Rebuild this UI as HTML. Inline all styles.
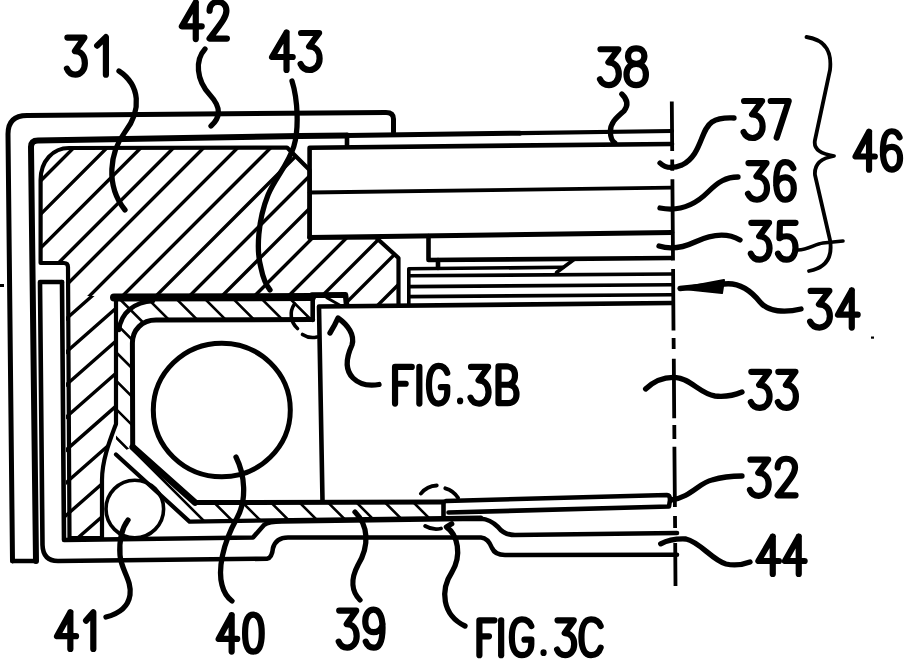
<!DOCTYPE html><html><head><meta charset="utf-8"><style>html,body{margin:0;padding:0;background:#fff;width:904px;height:660px;overflow:hidden;font-family:"Liberation Sans",sans-serif}svg{display:block}</style></head><body><svg width="904" height="660" viewBox="0 0 904 660" fill="none" stroke="#000" stroke-linecap="round" stroke-linejoin="round"><clipPath id="r31"><path d="M40.6,180 C40.6,161 53,148 69,148 L287,147.5 L309.6,170 L309.6,237.5 L376,237.5 L398.5,258 L398.5,306 L346,306 L346,296 L68.5,296 L68,267 Q68,263 64,263 L40.6,263 Z"/></clipPath>
<clipPath id="r31l"><path d="M66,296 L116,296 L116,424 C110,440 102,460 102,480 L102,538 L66,538 Z"/></clipPath>
<path clip-path="url(#r31)" stroke-width="3.4" d="M-378.5,600 L121.5,100 M-345.2,600 L154.8,100 M-311.3,600 L188.7,100 M-278.6,600 L221.4,100 M-248.5,600 L251.5,100 M-214.5,600 L285.5,100 M-181.5,600 L318.5,100 M-148.0,600 L352.0,100 M-114.5,600 L385.5,100 M-82.0,600 L418.0,100 M-49.5,600 L450.5,100 M-15.5,600 L484.5,100 M18.0,600 L518.0,100 M49.0,600 L549.0,100 M83.0,600 L583.0,100 M116.0,600 L616.0,100"/>
<path clip-path="url(#r31l)" stroke-width="3.4" d="M40,309.2 L140,221.2 M40,341.8 L140,253.8 M40,375.2 L140,287.2 M40,407.8 L140,319.8 M40,440.2 L140,352.2 M40,473.0 L140,385.0 M40,505.7 L140,417.7 M40,538.4 L140,450.4 M40,571.2 L140,483.2"/>
<path d="M40.6,180 C40.6,161 53,148 69,148 L287,147.5 L309.6,170 L309.6,237.5 L376,237.5 L398.5,258 L398.5,306 L346,306 L346,296 L116,296 L116,424 C110,440 102,460 102,480 L102,538 L69.5,538 L68,267 Q68,263 64,263 L40.6,263 Z" stroke-width="4.2" />
<path d="M12.5,561 L8,134 Q8,115.5 27,115.5 L386,112.4 Q393.5,112.4 393.5,119 L393.5,132" stroke-width="5" />
<path d="M36,561 L31,147 Q31,140.5 38,140.5 L300,136 L347,135.5" stroke-width="6" />
<path d="M347,135.5 L520,133.2" stroke-width="5" />
<path d="M520,133.2 L672,131" stroke-width="4.2" />
<path d="M12.5,561 L36,561" stroke-width="4.6" />
<path d="M40,282 L62,282 M40,282 L42.5,545 Q43,561 58,561 L267,558.7 Q272,558 273,548 Q276,537.5 288,537.5 L481,537.5 Q488,538 492,548 Q495,555 505,555 L677,554.7" stroke-width="4.6" />
<path d="M62,282 L64,540 L253,537.5 L264,525 Q268,521.5 282,521.5 L481,518.7 Q490,519 498,527 Q504,535 515,535 L677,533" stroke-width="4.6" />
<path d="M114,297.5 L312,297" stroke-width="8" />
<path d="M312,295 L345.5,294.7 L346.5,304" stroke-width="5.5" />
<path d="M312.7,297 L312.7,320" stroke-width="4.6" />
<path d="M119,330 C121,312 135,302 153,301" stroke-width="4.6" />
<path d="M312.7,319.5 L156,320 C142,320 132.4,330 132.4,343 L132.7,447 L195,502.5 L443.5,502" stroke-width="5" />
<path d="M132.7,447 L195,502.5" stroke-width="6.5" />
<path d="M116,454.5 L189.5,521.6 L481,517.5" stroke-width="4.2" />
<path d="M443.5,502 L443.5,516" stroke-width="4.6" />
<clipPath id="c1"><path d="M116,296 L312.7,297 L312.7,319 L156,320 C142,320 132.4,330 132.4,343 L132.7,447 L116,454.5 Z"/></clipPath>
<path clip-path="url(#c1)" stroke-width="2.6" d="M0,-2009.5 L904,-1105.5 M0,-1981.0 L904,-1077.0 M0,-1952.6 L904,-1048.6 M0,-1924.2 L904,-1020.2 M0,-1895.8 L904,-991.8 M0,-1867.3 L904,-963.3 M0,-1838.9 L904,-934.9 M0,-1810.5 L904,-906.5 M0,-1782.1 L904,-878.1 M0,-1753.6 L904,-849.6 M0,-1725.2 L904,-821.2 M0,-1696.8 L904,-792.8 M0,-1668.4 L904,-764.4 M0,-1639.9 L904,-735.9 M0,-1611.5 L904,-707.5 M0,-1583.1 L904,-679.1 M0,-1554.7 L904,-650.7 M0,-1526.2 L904,-622.2 M0,-1497.8 L904,-593.8 M0,-1469.4 L904,-565.4 M0,-1441.0 L904,-537.0 M0,-1412.5 L904,-508.5 M0,-1384.1 L904,-480.1 M0,-1355.7 L904,-451.7 M0,-1327.3 L904,-423.3 M0,-1298.8 L904,-394.8 M0,-1270.4 L904,-366.4 M0,-1242.0 L904,-338.0 M0,-1213.6 L904,-309.6 M0,-1185.1 L904,-281.1 M0,-1156.7 L904,-252.7 M0,-1128.3 L904,-224.3 M0,-1099.9 L904,-195.9 M0,-1071.4 L904,-167.4 M0,-1043.0 L904,-139.0 M0,-1014.6 L904,-110.6 M0,-986.2 L904,-82.2 M0,-957.7 L904,-53.7 M0,-929.3 L904,-25.3 M0,-900.9 L904,3.1 M0,-872.4 L904,31.6 M0,-844.0 L904,60.0 M0,-815.6 L904,88.4 M0,-787.2 L904,116.8 M0,-758.7 L904,145.3 M0,-730.3 L904,173.7 M0,-701.9 L904,202.1 M0,-673.5 L904,230.5 M0,-645.0 L904,259.0 M0,-616.6 L904,287.4 M0,-588.2 L904,315.8 M0,-559.8 L904,344.2 M0,-531.3 L904,372.7 M0,-502.9 L904,401.1 M0,-474.5 L904,429.5 M0,-446.1 L904,457.9 M0,-417.6 L904,486.4 M0,-389.2 L904,514.8 M0,-360.8 L904,543.2 M0,-332.4 L904,571.6 M0,-303.9 L904,600.1 M0,-275.5 L904,628.5 M0,-247.1 L904,656.9 M0,-218.7 L904,685.3 M0,-190.2 L904,713.8 M0,-161.8 L904,742.2 M0,-133.4 L904,770.6 M0,-105.0 L904,799.0 M0,-76.5 L904,827.5 M0,-48.1 L904,855.9 M0,-19.7 L904,884.3 M0,8.7 L904,912.7 M0,37.2 L904,941.2 M0,65.6 L904,969.6 M0,94.0 L904,998.0 M0,122.5 L904,1026.5 M0,150.9 L904,1054.9 M0,179.3 L904,1083.3 M0,207.7 L904,1111.7 M0,236.2 L904,1140.2 M0,264.6 L904,1168.6 M0,293.0 L904,1197.0 M0,321.4 L904,1225.4 M0,349.9 L904,1253.9 M0,378.3 L904,1282.3 M0,406.7 L904,1310.7 M0,435.1 L904,1339.1 M0,463.6 L904,1367.6 M0,492.0 L904,1396.0 M0,520.4 L904,1424.4 M0,548.8 L904,1452.8 M0,577.3 L904,1481.3 M0,605.7 L904,1509.7 M0,634.1 L904,1538.1 M0,662.5 L904,1566.5 M0,691.0 L904,1595.0 M0,719.4 L904,1623.4 M0,747.8 L904,1651.8 M0,776.2 L904,1680.2 M0,804.7 L904,1708.7 M0,833.1 L904,1737.1 M0,861.5 L904,1765.5 M0,889.9 L904,1793.9 M0,918.4 L904,1822.4 M0,946.8 L904,1850.8 M0,975.2 L904,1879.2 M0,1003.6 L904,1907.6 M0,1032.1 L904,1936.1 M0,1060.5 L904,1964.5 M0,1088.9 L904,1992.9 M0,1117.4 L904,2021.4 M0,1145.8 L904,2049.8 M0,1174.2 L904,2078.2 M0,1202.6 L904,2106.6 M0,1231.1 L904,2135.1 M0,1259.5 L904,2163.5 M0,1287.9 L904,2191.9 M0,1316.3 L904,2220.3 M0,1344.8 L904,2248.8 M0,1373.2 L904,2277.2 M0,1401.6 L904,2305.6 M0,1430.0 L904,2334.0 M0,1458.5 L904,2362.5 M0,1486.9 L904,2390.9 M0,1515.3 L904,2419.3 M0,1543.7 L904,2447.7 M0,1572.2 L904,2476.2 M0,1600.6 L904,2504.6 M0,1629.0 L904,2533.0 M0,1657.4 L904,2561.4 M0,1685.9 L904,2589.9 M0,1714.3 L904,2618.3 M0,1742.7 L904,2646.7 M0,1771.1 L904,2675.1 M0,1799.6 L904,2703.6 M0,1828.0 L904,2732.0 M0,1856.4 L904,2760.4 M0,1884.8 L904,2788.8 M0,1913.3 L904,2817.3 M0,1941.7 L904,2845.7 M0,1970.1 L904,2874.1 M0,1998.5 L904,2902.5 M0,2027.0 L904,2931.0 M0,2055.4 L904,2959.4 M0,2083.8 L904,2987.8 M0,2112.2 L904,3016.2 M0,2140.7 L904,3044.7 M0,2169.1 L904,3073.1 M0,2197.5 L904,3101.5 M0,2226.0 L904,3130.0 M0,2254.4 L904,3158.4 M0,2282.8 L904,3186.8 M0,2311.2 L904,3215.2 M0,2339.7 L904,3243.7 M0,2368.1 L904,3272.1 M0,2396.5 L904,3300.5 M0,2424.9 L904,3328.9 M0,2453.4 L904,3357.4 M0,2481.8 L904,3385.8"/>
<clipPath id="c2"><path d="M116,454.5 L132.7,447 L195,502.5 L443.5,502 L443.5,517 L189,521 Z"/></clipPath>
<path clip-path="url(#c2)" stroke-width="2.6" d="M0,-2019.7 L904,-1115.7 M0,-1991.2 L904,-1087.2 M0,-1962.7 L904,-1058.7 M0,-1934.2 L904,-1030.2 M0,-1905.7 L904,-1001.7 M0,-1877.3 L904,-973.3 M0,-1848.8 L904,-944.8 M0,-1820.3 L904,-916.3 M0,-1791.8 L904,-887.8 M0,-1763.3 L904,-859.3 M0,-1734.8 L904,-830.8 M0,-1706.3 L904,-802.3 M0,-1677.8 L904,-773.8 M0,-1649.3 L904,-745.3 M0,-1620.8 L904,-716.8 M0,-1592.3 L904,-688.3 M0,-1563.8 L904,-659.8 M0,-1535.3 L904,-631.3 M0,-1506.8 L904,-602.8 M0,-1478.3 L904,-574.3 M0,-1449.8 L904,-545.8 M0,-1421.3 L904,-517.3 M0,-1392.8 L904,-488.8 M0,-1364.3 L904,-460.3 M0,-1335.8 L904,-431.8 M0,-1307.3 L904,-403.3 M0,-1278.8 L904,-374.8 M0,-1250.3 L904,-346.3 M0,-1221.8 L904,-317.8 M0,-1193.3 L904,-289.3 M0,-1164.8 L904,-260.8 M0,-1136.3 L904,-232.3 M0,-1107.8 L904,-203.8 M0,-1079.4 L904,-175.4 M0,-1050.9 L904,-146.9 M0,-1022.4 L904,-118.4 M0,-993.9 L904,-89.9 M0,-965.4 L904,-61.4 M0,-936.9 L904,-32.9 M0,-908.4 L904,-4.4 M0,-879.9 L904,24.1 M0,-851.4 L904,52.6 M0,-822.9 L904,81.1 M0,-794.4 L904,109.6 M0,-765.9 L904,138.1 M0,-737.4 L904,166.6 M0,-708.9 L904,195.1 M0,-680.4 L904,223.6 M0,-651.9 L904,252.1 M0,-623.4 L904,280.6 M0,-594.9 L904,309.1 M0,-566.4 L904,337.6 M0,-537.9 L904,366.1 M0,-509.4 L904,394.6 M0,-480.9 L904,423.1 M0,-452.4 L904,451.6 M0,-423.9 L904,480.1 M0,-395.4 L904,508.6 M0,-366.9 L904,537.1 M0,-338.4 L904,565.6 M0,-309.9 L904,594.1 M0,-281.5 L904,622.5 M0,-253.0 L904,651.0 M0,-224.5 L904,679.5 M0,-196.0 L904,708.0 M0,-167.5 L904,736.5 M0,-139.0 L904,765.0 M0,-110.5 L904,793.5 M0,-82.0 L904,822.0 M0,-53.5 L904,850.5 M0,-25.0 L904,879.0 M0,3.5 L904,907.5 M0,32.0 L904,936.0 M0,60.5 L904,964.5 M0,89.0 L904,993.0 M0,117.5 L904,1021.5 M0,146.0 L904,1050.0 M0,174.5 L904,1078.5 M0,203.0 L904,1107.0 M0,231.5 L904,1135.5 M0,260.0 L904,1164.0 M0,288.5 L904,1192.5 M0,317.0 L904,1221.0 M0,345.5 L904,1249.5 M0,374.0 L904,1278.0 M0,402.5 L904,1306.5 M0,431.0 L904,1335.0 M0,459.5 L904,1363.5 M0,487.9 L904,1391.9 M0,516.4 L904,1420.4 M0,544.9 L904,1448.9 M0,573.4 L904,1477.4 M0,601.9 L904,1505.9 M0,630.4 L904,1534.4 M0,658.9 L904,1562.9 M0,687.4 L904,1591.4 M0,715.9 L904,1619.9 M0,744.4 L904,1648.4 M0,772.9 L904,1676.9 M0,801.4 L904,1705.4 M0,829.9 L904,1733.9 M0,858.4 L904,1762.4 M0,886.9 L904,1790.9 M0,915.4 L904,1819.4 M0,943.9 L904,1847.9 M0,972.4 L904,1876.4 M0,1000.9 L904,1904.9 M0,1029.4 L904,1933.4 M0,1057.9 L904,1961.9 M0,1086.4 L904,1990.4 M0,1114.9 L904,2018.9 M0,1143.4 L904,2047.4 M0,1171.9 L904,2075.9 M0,1200.4 L904,2104.4 M0,1228.9 L904,2132.9 M0,1257.4 L904,2161.4 M0,1285.8 L904,2189.8 M0,1314.3 L904,2218.3 M0,1342.8 L904,2246.8 M0,1371.3 L904,2275.3 M0,1399.8 L904,2303.8 M0,1428.3 L904,2332.3 M0,1456.8 L904,2360.8 M0,1485.3 L904,2389.3 M0,1513.8 L904,2417.8 M0,1542.3 L904,2446.3 M0,1570.8 L904,2474.8 M0,1599.3 L904,2503.3 M0,1627.8 L904,2531.8 M0,1656.3 L904,2560.3 M0,1684.8 L904,2588.8 M0,1713.3 L904,2617.3 M0,1741.8 L904,2645.8 M0,1770.3 L904,2674.3 M0,1798.8 L904,2702.8 M0,1827.3 L904,2731.3 M0,1855.8 L904,2759.8 M0,1884.3 L904,2788.3 M0,1912.8 L904,2816.8 M0,1941.3 L904,2845.3 M0,1969.8 L904,2873.8 M0,1998.3 L904,2902.3 M0,2026.8 L904,2930.8 M0,2055.3 L904,2959.3 M0,2083.7 L904,2987.7 M0,2112.2 L904,3016.2 M0,2140.7 L904,3044.7 M0,2169.2 L904,3073.2 M0,2197.7 L904,3101.7 M0,2226.2 L904,3130.2 M0,2254.7 L904,3158.7 M0,2283.2 L904,3187.2 M0,2311.7 L904,3215.7 M0,2340.2 L904,3244.2 M0,2368.7 L904,3272.7 M0,2397.2 L904,3301.2 M0,2425.7 L904,3329.7 M0,2454.2 L904,3358.2 M0,2482.7 L904,3386.7"/>
<path d="M322.5,501 L319,306.5 L672,303" stroke-width="4.6" />
<path d="M309.6,237.5 L309.6,147.7 L672,144" stroke-width="4.6" />
<path d="M309.6,192.5 L672,187.7" stroke-width="3.8" />
<path d="M309.6,237.5 L672,232.5" stroke-width="4.8" />
<path d="M347,135 L347,146" stroke-width="4.6" />
<path d="M428.5,236 L428.5,260 L672,258" stroke-width="4.6" />
<path d="M438,260 L438,268" stroke-width="4.6" />
<path d="M408.8,305 L408.8,268.8 L563,267.3" stroke-width="3.6" />
<path d="M556.5,272.5 L574,259.5" stroke-width="3.6" />
<path d="M408.8,275.8 L672,274" stroke-width="3.6" />
<path d="M408.8,286.6 L672,284.7" stroke-width="3.6" />
<path d="M408.8,296.6 L672,294.7" stroke-width="3.6" />
<path d="M446,501 L667,495 Q670,495 670,500 L669,506.5 L448.5,512.5" stroke-width="4.6" />
<ellipse cx="221.8" cy="410" rx="68.5" ry="66.8" stroke-width="5"/>
<circle cx="134.8" cy="509" r="28.8" stroke-width="3.6"/>
<path d="M671.8,101.6 L672.2,150.9 M672.2,159.4 L672.3,170.8 M672.4,179.3 L673.0,260.5 M673.1,269 L673.5,330.5 M673.6,338 L673.7,349 M673.8,358.7 L674.2,418.3 M674.3,425 L674.4,439 M674.4,446.7 L674.9,507 M675.0,516 L675.1,528 M675.2,543 L675.5,586" stroke-width="3.8" stroke-linecap="butt"/>
<path d="M420.9,493.6 A21.5,21.5 0 0 1 436.8,485.5 M445.3,488.3 A21.5,21.5 0 0 1 458,497.8 M441,528.5 A21.5,21.5 0 0 1 425.2,526" stroke-width="3.8" />
<path d="M294.5,304 A18.5,18.5 0 0 0 297.5,328.5 M302.5,334.5 A18.5,18.5 0 0 0 317,337" stroke-width="3.6" />
<path d="M326.8,297.7 L339.5,305" stroke-width="3" />
<path d="M119,71 C140,85 142,110 125,132 C110,152 105,185 125,210" stroke-width="5.3" />
<path d="M205,49 C195,60 196,80 210,95 C222,108 220,118 211,126" stroke-width="5.3" />
<path d="M292,81 C298,100 299,130 293.8,146.5 C288,165 275,178 268,195 C258,220 256,250 261,268 C263,278 266,285 270,290" stroke-width="5.3" />
<path d="M621.8,94 C628,100 628,106 624,111 C616,118 610,123 610.4,132 C610.5,138 612,141 614.8,143" stroke-width="5.3" />
<path d="M660,163 C665,168 672,169 682,165 C702,155 700,130 712,122 C720,117 728,118 734,118" stroke-width="5.3" />
<path d="M660,208 C680,212 695,205 708,192 C718,182 726,177 738,177" stroke-width="5.3" />
<path d="M659,246 C668,249 680,249 695,242 C712,234 728,233 740,240" stroke-width="5.3" />
<path d="M798,250 C808,250 815,244 823,243 L843,241" stroke-width="3.6" />
<path d="M806.5,37 C826,40 832,52 830,70 L815,140 C813,150 822,154 834,156 C822,158 814,163 815,175 L830,240 C833,258 825,268 809,271" stroke-width="3.8" />
<path d="M679,288.5 L724,280 L722,293 Z" stroke-width="2" fill="#000"/>
<path d="M680,288.5 L724,284 C740,282 752,292 760,302 C768,312 785,313 801,309" stroke-width="5.3" />
<path d="M645.6,389 C655,380 665,377 675,377.4 C690,378 700,394 715,396 C725,397 735,395 742,392" stroke-width="5.3" />
<path d="M671,500 C690,498 700,482 712,480 C722,477 732,476 742,476" stroke-width="5.3" />
<path d="M660.7,543.8 C668,540 675,538.5 686,539 C700,542 712,560 726,564 C735,566 742,565 750,562" stroke-width="5.3" />
<path d="M128,520 C122,528 119,540 120,555 C121,570 132,580 130,595 C128,608 118,614 106,617" stroke-width="5.3" />
<path d="M236,457 C245,475 247,500 237,518 C222,545 218,570 222,585 C224,593 228,598 232,601" stroke-width="5.3" />
<path d="M355,512 C368,525 370,545 358,565 C350,580 352,592 360,600" stroke-width="5.3" />
<path d="M451.7,523.8 L446.4,527 C458,535 462,555 452,572 C440,590 442,615 465,626" stroke-width="5.3" />
<path d="M330,333 C335,325 338,318 338,318 C348,325 355,335 352,345 C346,358 345,370 353,378 C360,385 370,386 379,384.5" stroke-width="5.3" />
<rect x="0" y="284" width="4" height="3" fill="#000" stroke="none"/>
<rect x="871" y="336.5" width="3" height="2.2" fill="#000" stroke="none"/>
<path transform="translate(64.10,33.60) scale(0.9440,1.0023)" d="M3.5,4 L21.5,4 L11.5,17.5 C18,17.5 22,22.5 22,29.5 C22,36.5 17.5,41 12,41 C7.5,41 4.5,38.5 3,35" stroke-width="6.2" vector-effect="non-scaling-stroke"/>
<path transform="translate(94.10,33.60) scale(1.0267,1.0023)" d="M3,12 L11.5,3.5 L11.5,41" stroke-width="6.2" vector-effect="non-scaling-stroke"/>
<path transform="translate(178.90,-1.00) scale(0.9923,0.9773)" d="M17,3.5 L3,28 L23,28 M17,3.5 L17,41" stroke-width="6.2" vector-effect="non-scaling-stroke"/>
<path transform="translate(206.20,-1.00) scale(0.9625,0.9773)" d="M3.5,12 C3.5,6.5 7,3 12,3 C17.5,3 21,6.5 21,12 C21,18 17,23 3.5,40.5 L21.5,40.5" stroke-width="6.2" vector-effect="non-scaling-stroke"/>
<path transform="translate(269.00,29.00) scale(1.0308,1.0000)" d="M17,3.5 L3,28 L23,28 M17,3.5 L17,41" stroke-width="6.2" vector-effect="non-scaling-stroke"/>
<path transform="translate(297.60,29.00) scale(1.0000,1.0000)" d="M3.5,4 L21.5,4 L11.5,17.5 C18,17.5 22,22.5 22,29.5 C22,36.5 17.5,41 12,41 C7.5,41 4.5,38.5 3,35" stroke-width="6.2" vector-effect="non-scaling-stroke"/>
<path transform="translate(597.00,45.40) scale(0.9920,0.9682)" d="M3.5,4 L21.5,4 L11.5,17.5 C18,17.5 22,22.5 22,29.5 C22,36.5 17.5,41 12,41 C7.5,41 4.5,38.5 3,35" stroke-width="6.2" vector-effect="non-scaling-stroke"/>
<path transform="translate(623.40,45.40) scale(1.0240,0.9682)" d="M12.5,3 C7,3 4.5,6.5 4.5,11 C4.5,15.5 7.5,19 12.5,19 C17.5,19 20.5,15.5 20.5,11 C20.5,6.5 18,3 12.5,3 Z M12.5,19 C6.5,19 3,23.5 3,30 C3,36.5 6.5,41 12.5,41 C18.5,41 22,36.5 22,30 C22,23.5 18.5,19 12.5,19 Z" stroke-width="6.2" vector-effect="non-scaling-stroke"/>
<path transform="translate(740.60,97.00) scale(1.0000,1.0000)" d="M3.5,4 L21.5,4 L11.5,17.5 C18,17.5 22,22.5 22,29.5 C22,36.5 17.5,41 12,41 C7.5,41 4.5,38.5 3,35" stroke-width="6.2" vector-effect="non-scaling-stroke"/>
<path transform="translate(767.20,97.00) scale(1.0000,1.0000)" d="M3.5,4 L21.5,4 L9.5,40.5" stroke-width="6.2" vector-effect="non-scaling-stroke"/>
<path transform="translate(745.00,159.10) scale(1.0000,0.9909)" d="M3.5,4 L21.5,4 L11.5,17.5 C18,17.5 22,22.5 22,29.5 C22,36.5 17.5,41 12,41 C7.5,41 4.5,38.5 3,35" stroke-width="6.2" vector-effect="non-scaling-stroke"/>
<path transform="translate(773.20,159.10) scale(1.0043,0.9909)" d="M20,9 C18.5,5 16,3 12,3 C6,3 3,10 3,23 C3,34.5 6.5,41 12,41 C17,41 20.5,36.5 20.5,29.5 C20.5,22.5 17,18.5 12,18.5 C7.5,18.5 4,21.5 3,26" stroke-width="6.2" vector-effect="non-scaling-stroke"/>
<path transform="translate(852.70,128.20) scale(0.9615,1.0114)" d="M17,3.5 L3,28 L23,28 M17,3.5 L17,41" stroke-width="6.2" vector-effect="non-scaling-stroke"/>
<path transform="translate(880.00,128.20) scale(0.9787,1.0114)" d="M20,9 C18.5,5 16,3 12,3 C6,3 3,10 3,23 C3,34.5 6.5,41 12,41 C17,41 20.5,36.5 20.5,29.5 C20.5,22.5 17,18.5 12,18.5 C7.5,18.5 4,21.5 3,26" stroke-width="6.2" vector-effect="non-scaling-stroke"/>
<path transform="translate(747.90,218.80) scale(0.9840,0.9977)" d="M3.5,4 L21.5,4 L11.5,17.5 C18,17.5 22,22.5 22,29.5 C22,36.5 17.5,41 12,41 C7.5,41 4.5,38.5 3,35" stroke-width="6.2" vector-effect="non-scaling-stroke"/>
<path transform="translate(775.10,218.80) scale(0.9708,0.9977)" d="M21,4 L5,4 L4.5,19.5 C6.5,18 9,17.5 12,17.5 C17.5,17.5 21,22 21,29 C21,36.5 17,41 12,41 C7.5,41 4.5,38.5 3,35" stroke-width="6.2" vector-effect="non-scaling-stroke"/>
<path transform="translate(807.00,287.00) scale(1.0400,0.9886)" d="M3.5,4 L21.5,4 L11.5,17.5 C18,17.5 22,22.5 22,29.5 C22,36.5 17.5,41 12,41 C7.5,41 4.5,38.5 3,35" stroke-width="6.2" vector-effect="non-scaling-stroke"/>
<path transform="translate(835.10,287.00) scale(0.9808,0.9886)" d="M17,3.5 L3,28 L23,28 M17,3.5 L17,41" stroke-width="6.2" vector-effect="non-scaling-stroke"/>
<path transform="translate(747.90,367.90) scale(0.9840,0.9750)" d="M3.5,4 L21.5,4 L11.5,17.5 C18,17.5 22,22.5 22,29.5 C22,36.5 17.5,41 12,41 C7.5,41 4.5,38.5 3,35" stroke-width="6.2" vector-effect="non-scaling-stroke"/>
<path transform="translate(775.00,367.90) scale(0.9500,0.9750)" d="M3.5,4 L21.5,4 L11.5,17.5 C18,17.5 22,22.5 22,29.5 C22,36.5 17.5,41 12,41 C7.5,41 4.5,38.5 3,35" stroke-width="6.2" vector-effect="non-scaling-stroke"/>
<path transform="translate(747.00,455.80) scale(0.9840,0.9761)" d="M3.5,4 L21.5,4 L11.5,17.5 C18,17.5 22,22.5 22,29.5 C22,36.5 17.5,41 12,41 C7.5,41 4.5,38.5 3,35" stroke-width="6.2" vector-effect="non-scaling-stroke"/>
<path transform="translate(774.20,455.80) scale(0.9917,0.9761)" d="M3.5,12 C3.5,6.5 7,3 12,3 C17.5,3 21,6.5 21,12 C21,18 17,23 3.5,40.5 L21.5,40.5" stroke-width="6.2" vector-effect="non-scaling-stroke"/>
<path transform="translate(755.30,533.20) scale(1.0269,0.9932)" d="M17,3.5 L3,28 L23,28 M17,3.5 L17,41" stroke-width="6.2" vector-effect="non-scaling-stroke"/>
<path transform="translate(782.00,533.20) scale(0.9846,0.9932)" d="M17,3.5 L3,28 L23,28 M17,3.5 L17,41" stroke-width="6.2" vector-effect="non-scaling-stroke"/>
<path transform="translate(54.20,608.90) scale(0.9500,0.9750)" d="M17,3.5 L3,28 L23,28 M17,3.5 L17,41" stroke-width="6.2" vector-effect="non-scaling-stroke"/>
<path transform="translate(83.50,608.90) scale(0.8533,0.9750)" d="M3,12 L11.5,3.5 L11.5,41" stroke-width="6.2" vector-effect="non-scaling-stroke"/>
<path transform="translate(215.90,611.80) scale(0.9269,0.9705)" d="M17,3.5 L3,28 L23,28 M17,3.5 L17,41" stroke-width="6.2" vector-effect="non-scaling-stroke"/>
<path transform="translate(242.30,611.80) scale(0.9250,0.9705)" d="M12,3 C6,3 3,10 3,22 C3,34 6,41 12,41 C18,41 21,34 21,22 C21,10 18,3 12,3 Z" stroke-width="6.2" vector-effect="non-scaling-stroke"/>
<path transform="translate(335.90,606.60) scale(0.9440,1.0023)" d="M3.5,4 L21.5,4 L11.5,17.5 C18,17.5 22,22.5 22,29.5 C22,36.5 17.5,41 12,41 C7.5,41 4.5,38.5 3,35" stroke-width="6.2" vector-effect="non-scaling-stroke"/>
<path transform="translate(362.30,606.60) scale(0.9872,1.0023)" d="M3.5,35 C5,39 7.5,41 11.5,41 C17.5,41 20.5,34 20.5,21 C20.5,9.5 17,3 11.5,3 C6.5,3 3,7.5 3,14.5 C3,21.5 6.5,25.5 11.5,25.5 C16,25.5 19.5,22.5 20.5,18" stroke-width="6.2" vector-effect="non-scaling-stroke"/>
<path transform="translate(391.50,363.00) scale(1.0130,0.9886)" d="M20,4 L3.5,4 L3.5,41 M3.5,21 L14,21" stroke-width="6.2" vector-effect="non-scaling-stroke"/>
<path transform="translate(415.70,363.00) scale(1.0429,0.9886)" d="M3.5,4 L3.5,41" stroke-width="6.2" vector-effect="non-scaling-stroke"/>
<path transform="translate(426.00,363.00) scale(0.9880,0.9886)" d="M21.5,10 C20,5.5 17,3 12.5,3 C6.5,3 3,10 3,22 C3,34 6.5,41 12.5,41 C18,41 21.5,36 21.5,29 L21.5,24.5 L15,24.5" stroke-width="6.2" vector-effect="non-scaling-stroke"/>
<path transform="translate(456.00,363.00) scale(1.0250,0.9886)" d="M4,38 L4,38.6" stroke-width="6.2" vector-effect="non-scaling-stroke"/>
<path transform="translate(467.70,363.00) scale(0.9480,0.9886)" d="M3.5,4 L21.5,4 L11.5,17.5 C18,17.5 22,22.5 22,29.5 C22,36.5 17.5,41 12,41 C7.5,41 4.5,38.5 3,35" stroke-width="6.2" vector-effect="non-scaling-stroke"/>
<path transform="translate(495.00,363.00) scale(1.0000,0.9886)" d="M3.5,22 L13,22 C18.5,22 21.5,26 21.5,31.5 C21.5,37 18.5,40.5 13,40.5 L3.5,40.5 L3.5,3.5 L12,3.5 C17,3.5 20,6.5 20,12.5 C20,18.5 17,22 12,22" stroke-width="6.2" vector-effect="non-scaling-stroke"/>
<path transform="translate(476.20,616.60) scale(0.9130,0.9409)" d="M20,4 L3.5,4 L3.5,41 M3.5,21 L14,21" stroke-width="6.2" vector-effect="non-scaling-stroke"/>
<path transform="translate(497.90,616.60) scale(0.9286,0.9409)" d="M3.5,4 L3.5,41" stroke-width="6.2" vector-effect="non-scaling-stroke"/>
<path transform="translate(508.70,616.60) scale(1.0520,0.9409)" d="M21.5,10 C20,5.5 17,3 12.5,3 C6.5,3 3,10 3,22 C3,34 6.5,41 12.5,41 C18,41 21.5,36 21.5,29 L21.5,24.5 L15,24.5" stroke-width="6.2" vector-effect="non-scaling-stroke"/>
<path transform="translate(539.70,616.60) scale(0.9625,0.9409)" d="M4,38 L4,38.6" stroke-width="6.2" vector-effect="non-scaling-stroke"/>
<path transform="translate(554.40,616.60) scale(0.9000,0.9409)" d="M3.5,4 L21.5,4 L11.5,17.5 C18,17.5 22,22.5 22,29.5 C22,36.5 17.5,41 12,41 C7.5,41 4.5,38.5 3,35" stroke-width="6.2" vector-effect="non-scaling-stroke"/>
<path transform="translate(578.40,616.60) scale(1.0115,0.9409)" d="M22,10 C20.5,5.5 17.5,3 12.5,3 C6.5,3 3,10 3,22 C3,34 6.5,41 12.5,41 C17.5,41 20.5,38 22,33" stroke-width="6.2" vector-effect="non-scaling-stroke"/></svg></body></html>
